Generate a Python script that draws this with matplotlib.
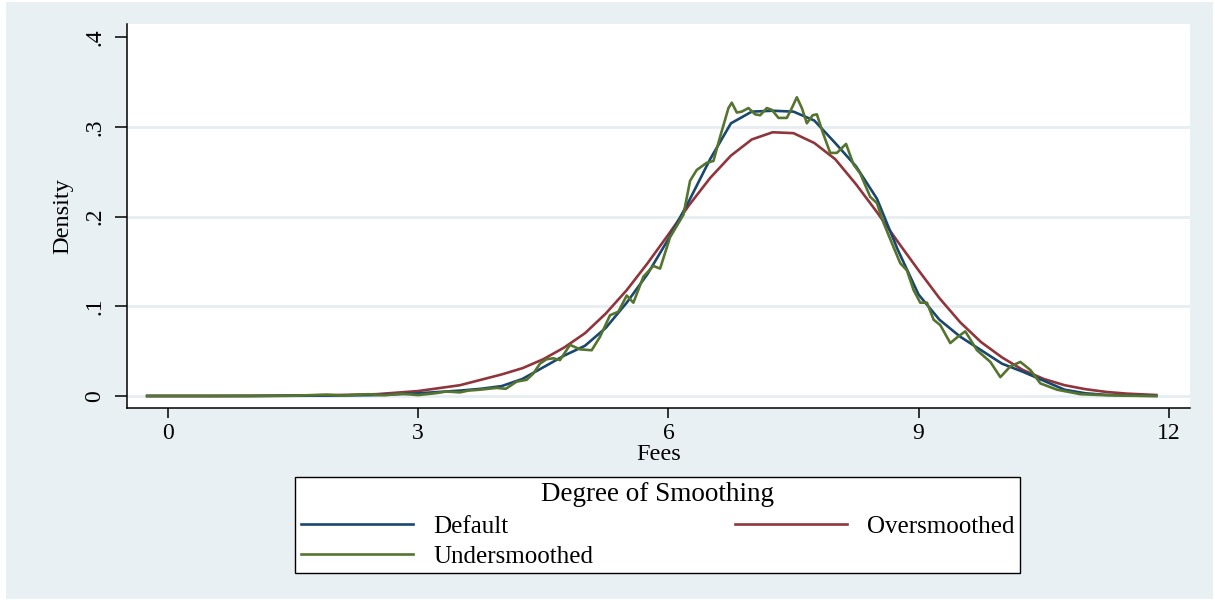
import matplotlib
matplotlib.use("Agg")
import matplotlib.pyplot as plt
from matplotlib.patches import Rectangle

# ---- data (kernel density of Fees) ----
default_x = [-0.25, 1.0, 2.0, 2.5, 3.0, 3.5, 3.75, 4.0, 4.25, 4.5, 4.75, 5.0, 5.25, 5.5,
             5.75, 6.0, 6.25, 6.5, 6.75, 7.0, 7.25, 7.5, 7.75, 8.0, 8.25, 8.5, 8.75,
             9.0, 9.25, 9.5, 9.75, 10.0, 10.25, 10.5, 10.75, 11.0, 11.25, 11.5, 11.85]
default_y = [0.0, 0.0, 0.0005, 0.001, 0.003, 0.006, 0.008, 0.011, 0.019, 0.032, 0.045, 0.056, 0.076, 0.104,
             0.136, 0.175, 0.218, 0.264, 0.304, 0.317, 0.318, 0.317, 0.307, 0.282, 0.256, 0.220, 0.163,
             0.113, 0.085, 0.066, 0.051, 0.036, 0.027, 0.017, 0.007, 0.003, 0.0012, 0.0005, 0.0]

over_x = [-0.25, 0.5, 1.0, 1.5, 2.0, 2.5, 3.0, 3.5, 4.0, 4.25, 4.5, 4.75, 5.0, 5.25, 5.5,
          5.75, 6.0, 6.25, 6.5, 6.75, 7.0, 7.25, 7.5, 7.75, 8.0, 8.25, 8.5, 8.75, 9.0,
          9.25, 9.5, 9.75, 10.0, 10.25, 10.5, 10.75, 11.0, 11.25, 11.5, 11.85]
over_y = [0.0, 0.0, 0.0002, 0.0005, 0.001, 0.002, 0.0055, 0.012, 0.024, 0.031, 0.041, 0.054, 0.070, 0.092, 0.118,
          0.148, 0.180, 0.213, 0.243, 0.268, 0.286, 0.294, 0.293, 0.282, 0.264, 0.236, 0.205, 0.172, 0.140,
          0.109, 0.082, 0.060, 0.043, 0.029, 0.019, 0.012, 0.0076, 0.0045, 0.0026, 0.0011]

under_x = [-0.25, 0.5, 1.0, 1.5, 1.9, 2.1, 2.4, 2.6, 2.8, 3.0, 3.2, 3.34, 3.5, 3.6, 3.74, 3.94,
           4.05, 4.18, 4.3, 4.38, 4.46, 4.54, 4.62, 4.70, 4.82, 4.94, 5.08, 5.18, 5.30, 5.40,
           5.50, 5.58, 5.70, 5.82, 5.90, 6.02, 6.18, 6.26, 6.34, 6.46, 6.54, 6.62, 6.72, 6.76,
           6.82, 6.88, 6.96, 7.04, 7.10, 7.18, 7.24, 7.32, 7.42, 7.48, 7.54, 7.60, 7.66, 7.73,
           7.78, 7.85, 7.94, 8.02, 8.13, 8.22, 8.30, 8.42, 8.50, 8.58, 8.69, 8.78, 8.86, 8.94,
           9.02, 9.10, 9.18, 9.26, 9.38, 9.47, 9.56, 9.70, 9.86, 9.98, 10.10, 10.22, 10.34,
           10.46, 10.66, 10.94, 11.2, 11.5, 11.85]
under_y = [0.0, 0.0, 0.0, 0.0003, 0.0015, 0.0005, 0.002, 0.0008, 0.0025, 0.001, 0.003, 0.005, 0.004, 0.006, 0.007, 0.009,
           0.008, 0.016, 0.018, 0.025, 0.036, 0.041, 0.042, 0.040, 0.057, 0.052, 0.051, 0.066, 0.090, 0.094,
           0.112, 0.104, 0.133, 0.145, 0.142, 0.177, 0.202, 0.240, 0.252, 0.260, 0.262, 0.289, 0.321, 0.327,
           0.316, 0.317, 0.321, 0.314, 0.313, 0.321, 0.319, 0.310, 0.310, 0.321, 0.333, 0.321, 0.304, 0.313,
           0.314, 0.294, 0.271, 0.271, 0.281, 0.258, 0.248, 0.222, 0.215, 0.193, 0.168, 0.148, 0.140, 0.118,
           0.104, 0.104, 0.085, 0.079, 0.059, 0.066, 0.072, 0.051, 0.038, 0.021, 0.033, 0.038, 0.029,
           0.014, 0.007, 0.002, 0.001, 0.0003, 0.0]

x_ticks = [0, 3, 6, 9, 12]
y_ticks = [0, 0.1, 0.2, 0.3, 0.4]
y_tick_labels = ["0", ".1", ".2", ".3", ".4"]

NAVY = "#1a476f"
MAROON = "#90353b"
GREEN = "#55752f"
BG = "#e9f0f3"
GRID = "#e6eef1"

plt.rcParams["font.family"] = ["Liberation Serif", "DejaVu Serif"]

fig = plt.figure(figsize=(12.15, 6), dpi=100)
fig.patch.set_facecolor("white")
# outer (graph region) background
fig.add_artist(Rectangle((6 / 1215, 1 / 600), 1207 / 1215, 597 / 600,
                         transform=fig.transFigure, facecolor=BG, edgecolor="none", zorder=-10))

ax = fig.add_axes([127 / 1215, 1 - 408 / 600, (1190 - 127) / 1215, (408 - 24) / 600])
ax.set_facecolor("white")

for yv in y_ticks[:-1]:
    ax.axhline(yv, color=GRID, lw=2, zorder=0)

l_def, = ax.plot(default_x, default_y, color=NAVY, lw=1.9, label="Default", zorder=3)
l_over, = ax.plot(over_x, over_y, color=MAROON, lw=1.9, label="Oversmoothed", zorder=2)
l_under, = ax.plot(under_x, under_y, color=GREEN, lw=1.9, label="Undersmoothed", zorder=4)

ax.set_xlim(-0.4916, 12.254)
ax.set_ylim(-0.0134, 0.4147)
ax.set_xticks(x_ticks)
ax.set_yticks(y_ticks)
ax.set_yticklabels(y_tick_labels, rotation=90, va="center")

for side in ["top", "right"]:
    ax.spines[side].set_visible(False)
for side in ["left", "bottom"]:
    ax.spines[side].set_color("black")
    ax.spines[side].set_linewidth(1.1)

ax.tick_params(axis="x", length=7, width=1.1, pad=4, labelsize=17)
ax.tick_params(axis="y", length=8.5, width=1.1, pad=7, labelsize=17)
ax.set_xlabel("Fees", fontsize=17.5, labelpad=0)
ax.set_ylabel("Density", fontsize=17.5, labelpad=8)

leg = fig.legend([l_def, l_under, l_over], ["Default", "Undersmoothed", "Oversmoothed"],
                 ncol=2, mode="expand", loc="center", borderaxespad=0,
                 bbox_to_anchor=(295 / 1215, 1 - 574 / 600, 725 / 1215, 98 / 600),
                 title="Degree of Smoothing", title_fontsize=19.5, fontsize=18,
                 handlelength=4.5, handletextpad=0.8, labelspacing=0.3,
                 borderpad=0.22, frameon=True, fancybox=False, framealpha=1)
leg.get_frame().set_edgecolor("black")
leg.get_frame().set_linewidth(1.0)
leg.get_frame().set_facecolor("white")
leg._legend_box.sep = 6
for ln in leg.get_lines():
    ln.set_linewidth(1.9)

fig.savefig("out.png", dpi=100, facecolor=fig.get_facecolor())
